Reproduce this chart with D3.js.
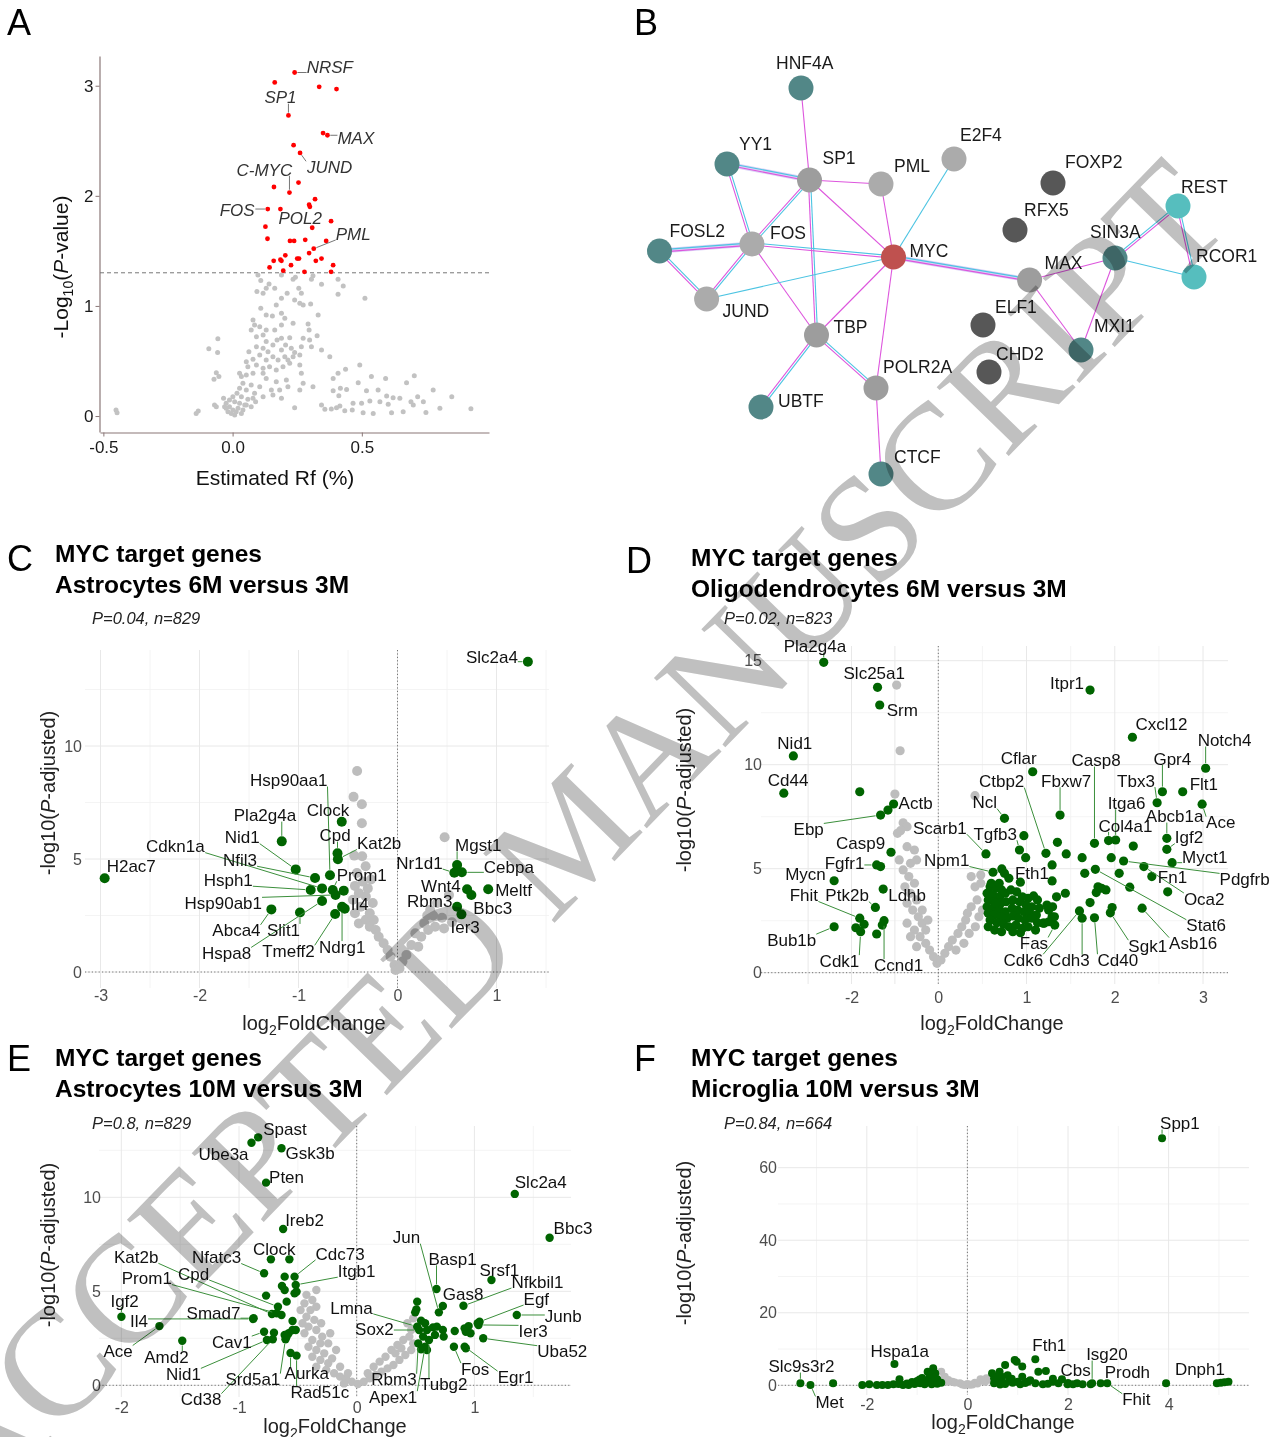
<!DOCTYPE html>
<html><head><meta charset="utf-8">
<script src="https://cdn.jsdelivr.net/npm/d3@7"></script>
<style>body{margin:0;background:#fff}svg{display:block}</style>
</head><body>
<svg id="fig" width="1273" height="1437" xmlns="http://www.w3.org/2000/svg"></svg>
<script>
// ================= DATA =================
// Panel A: estimated Rf vs -log10(P)
const rfSignificant = [[0.240,3.12],[0.163,3.03],[0.335,2.99],[0.402,2.97],[0.216,2.73],[0.350,2.57],[0.367,2.55],[0.236,2.46],[0.261,2.39],[0.160,2.08],[0.255,2.12],[0.220,2.03],[0.319,1.97],[0.296,1.92],[0.299,1.90],[0.136,1.88],[0.185,1.88],[0.381,1.77],[0.127,1.72],[0.308,1.71],[0.135,1.61],[0.222,1.59],[0.238,1.59],[0.281,1.60],[0.362,1.59],[0.314,1.52],[0.296,1.48],[0.204,1.46],[0.159,1.41],[0.185,1.42],[0.189,1.41],[0.250,1.43],[0.257,1.43],[0.322,1.41],[0.344,1.43],[0.143,1.35],[0.226,1.37],[0.389,1.37],[0.196,1.32],[0.278,1.31],[0.381,1.31]];
const rfNonsignificant = [[-0.451,0.055],[-0.447,0.030],[-0.141,0.024],[-0.133,0.045],[-0.092,0.612],[-0.057,0.703],[-0.058,0.576],[-0.063,0.394],[-0.072,0.333],[-0.053,0.358],[-0.070,0.100],[-0.063,0.085],
[0.408,0.388],[0.437,0.424],[0.441,0.242],[0.389,0.342],[0.492,0.464],[0.486,0.303],[0.518,0.230],[0.537,0.358],[0.563,0.236],[0.592,0.342],[0.596,0.182],[0.621,0.167],[0.647,0.161],[0.673,0.303],[0.703,0.367],[0.716,0.176],[0.776,0.236],[0.848,0.176],[0.922,0.067],[0.802,0.070],[0.748,0.033],[0.699,0.100],[0.738,0.130],[0.690,0.130],[0.660,0.039],[0.615,0.030],[0.602,0.106],[0.570,0.130],[0.531,0.136],[0.544,0.024],[0.505,0.030],[0.499,0.115],[0.466,0.115],[0.463,0.055],[0.434,0.048],[0.415,0.091],[0.402,0.076],[0.382,0.064],[0.357,0.061],[0.344,0.100],[0.240,0.076],[0.411,0.185],[0.389,0.230],[0.417,0.252],
[0.098,1.282],[0.109,1.230],[0.130,1.161],[0.141,1.200],[0.189,1.282],[0.234,1.242],[0.243,1.261],[0.305,1.242],[0.311,1.273],[0.344,1.197],[0.408,1.242],[0.428,1.182],[0.408,1.106],[0.512,1.070],[0.094,1.130],[0.118,1.115],[0.163,1.161],[0.189,1.070],[0.211,1.115],[0.256,1.161],[0.266,1.115],[0.260,1.024],[0.273,1.009],[0.302,1.018],[0.240,1.055],[0.169,1.009],[0.109,0.979],[0.130,0.918],[0.154,0.909],[0.189,0.933],[0.202,0.888],[0.163,0.782],[0.189,0.827],[0.234,0.842],[0.292,0.836],[0.331,0.918],[0.296,0.782],[0.079,0.873],[0.085,0.827],[0.105,0.812],[0.130,0.782],[0.072,0.782],[0.092,0.721],[0.118,0.736],[0.130,0.676],[0.172,0.691],[0.189,0.706],[0.221,0.712],[0.273,0.706],[0.327,0.730],[0.298,0.691],[0.092,0.630],[0.118,0.615],[0.137,0.585],[0.156,0.645],[0.189,0.600],[0.205,0.645],[0.227,0.615],[0.240,0.576],[0.266,0.630],[0.305,0.630],[0.344,0.600],[0.376,0.539],[0.063,0.585],[0.079,0.515],[0.105,0.555],[0.130,0.509],[0.156,0.539],[0.176,0.509],[0.202,0.539],[0.214,0.509],[0.234,0.539],[0.260,0.555],[0.053,0.494],[0.059,0.448],[0.092,0.464],[0.118,0.433],[0.143,0.448],[0.169,0.418],[0.195,0.448],[0.221,0.479],[0.260,0.464],[0.266,0.388],[0.311,0.267],
[0.027,0.388],[0.034,0.358],[0.053,0.373],[0.079,0.388],[0.118,0.388],[0.130,0.342],[0.169,0.312],[0.208,0.327],[0.273,0.297],[0.260,0.236],[0.214,0.267],[0.182,0.236],[0.150,0.236],[0.105,0.267],[0.072,0.282],[0.040,0.297],[0.027,0.252],[0.053,0.236],[0.085,0.206],[0.118,0.176],[0.156,0.191],[0.189,0.161],[0.017,0.206],[0.034,0.176],[0.059,0.152],[0.089,0.130],[0.001,0.176],[-0.012,0.145],[0.008,0.130],[0.027,0.115],[0.047,0.100],[0.072,0.085],[-0.025,0.115],[-0.035,0.161],[-0.031,0.085],[-0.012,0.085],[0.001,0.055],[0.021,0.070],[0.040,0.055],[-0.018,0.039],[-0.005,0.024],[0.008,0.009],[-0.025,0.070],[0.014,0.039],[0.034,0.024],[0.053,0.100],[0.079,0.161]];
const rfLabels = [["NRSF",0.240,3.12],["SP1",0.216,2.73],["MAX",0.367,2.55],["JUND",0.261,2.39],["C-MYC",0.220,2.03],["FOS",0.136,1.88],["POL2",0.185,1.88],["PML",0.314,1.52]];
const rfThreshold = 1.301;
const rfXTicks = [-0.5, 0.0, 0.5];
const rfYTicks = [0, 1, 2, 3];

// Panel B: network
const netNodes = [
 ["HNF4A",151,28,"teal"],["YY1",77,104,"teal"],["SP1",159.5,120,"mid"],["PML",231,124,"light"],["E2F4",304,99,"light"],
 ["FOXP2",403,123,"dark"],["RFX5",365,170,"dark"],["REST",528,146,"cyan"],["SIN3A",465,198,"teal"],["RCOR1",544,217,"cyan"],
 ["FOSL2",9.5,191,"teal"],["FOS",102,184,"light"],["MYC",243.5,197,"red"],["MAX",379.6,220,"mid"],["JUND",56.6,239,"light"],
 ["ELF1",333,265,"dark"],["TBP",166.5,275,"mid"],["MXI1",431,290,"teal"],["CHD2",339,312,"dark"],["POLR2A",226,328,"mid"],
 ["UBTF",111,347,"teal"],["CTCF",231,414,"teal"]];
const netEdges = [["HNF4A","SP1","m"],["YY1","SP1","mcl"],["YY1","FOS","mc"],["SP1","PML","m"],["SP1","FOS","mc"],["SP1","MYC","m"],["SP1","TBP","mc"],["PML","MYC","m"],["E2F4","MYC","c"],["FOSL2","FOS","mcl"],["FOSL2","JUND","mc"],["FOS","JUND","mc"],["FOS","MYC","mc"],["FOS","TBP","m"],["JUND","MYC","c"],["MYC","TBP","m"],["MYC","POLR2A","m"],["MYC","MAX","mcl"],["MAX","SIN3A","m"],["MAX","MXI1","m"],["SIN3A","MXI1","m"],["SIN3A","REST","mc"],["SIN3A","RCOR1","c"],["REST","RCOR1","mc"],["TBP","UBTF","mc"],["TBP","POLR2A","mc"],["POLR2A","CTCF","m"]];

// Panel C: Astrocytes 6M vs 3M
const cGray = [[-0.408,8.89],[-0.444,7.75],[-0.360,7.42],[-0.360,6.58],[0.476,5.96],[-0.437,5.15],[-0.357,5.12],[-0.322,4.68],[-0.41,4.38],[-0.268,4.09],[-0.43,3.81],[-0.39,3.49],[-0.32,3.34],[-0.25,3.05],[-0.37,2.89],[-0.43,2.60],[-0.39,2.15],[-0.32,2.31],[-0.28,2.00],[-0.22,1.86],[-0.19,1.56],[-0.14,1.27],[-0.10,0.97],[-0.07,0.68],[-0.03,0.31],[-0.02,0.09],[0.02,0.16],[0.05,0.46],[0.09,0.75],[0.14,1.19],[0.18,1.71],[0.27,2.15],[0.33,2.74],[0.38,2.00],[0.47,1.93],[0.40,3.05],[0.52,3.41],[0.24,1.56],[0.21,1.12],[0.31,1.86],[-0.45,3.2],[-0.35,4.0],[-0.30,3.7],[-0.28,2.6],[-0.24,2.3],[0.36,2.5],[0.45,2.4],[0.55,2.2],[0.30,2.5]];
const cGreen = [[1.317,13.73,"Slc2a4"],[-2.958,4.15,"H2ac7"],[-0.563,6.65,"Clock"],[-1.169,5.78,"Pla2g4a"],[-0.606,5.25,"Cpd"],[-0.602,4.99,"Kat2b"],[-1.028,4.54,"Nid1"],[-0.833,4.16,"Nfil3"],[-0.682,4.28,"Hsp90aa1"],[-0.877,3.63,"Hsph1"],[-0.762,3.70,"Cdkn1a"],[-0.654,3.63,"Prom1"],[-0.626,3.41,"Hsp90ab1"],[-0.543,3.60,null],[-0.762,3.14,"Hspa8"],[-1.274,2.77,"Abca4"],[-0.985,2.63,"Slit1"],[-0.630,2.57,"Tmeff2"],[-0.560,2.89,"Ndrg1"],[-0.533,2.80,"Il4"],[0.602,4.73,"Mgst1"],[0.574,4.39,"Nr1d1"],[0.650,4.41,"Cebpa"],[0.703,3.66,"Wnt4"],[0.746,3.41,"Bbc3"],[0.916,3.66,"Meltf"],[0.602,2.89,"Rbm3"],[0.646,2.55,"Ier3"]];

// Panel D: Oligodendrocytes 6M vs 3M
const dGray = [[-0.96,13.83],[-0.88,10.67],[-1.00,8.59],[0.416,8.51],[-0.81,7.21],[-0.72,7.02],[-0.94,6.70],[-0.87,6.83],[-0.72,6.06],[-0.55,5.90],[-0.90,5.42],[-0.64,5.26],[-0.50,5.42],[-0.81,4.94],[-0.68,4.62],[-0.55,4.30],[-0.77,4.13],[-0.64,3.82],[-0.50,3.50],[-0.72,3.34],[-0.59,3.01],[-0.46,2.69],[-0.37,2.38],[-0.55,2.05],[-0.42,1.73],[-0.29,1.41],[-0.20,1.09],[-0.11,0.77],[-0.03,0.45],[0.03,0.61],[0.074,0.93],[0.116,1.25],[0.159,1.57],[0.223,1.89],[0.266,2.21],[0.310,2.53],[0.330,2.86],[0.373,3.17],[0.373,4.62],[0.481,4.70],[0.416,4.13],[0.481,4.30],[-0.72,2.38],[-0.64,1.73],[-0.50,1.25],[0.20,1.09],[0.29,1.41],[0.35,1.89],[0.42,2.21],[0.46,2.69],[0.50,3.01],[0.44,3.50],[-0.29,2.05],[-0.24,2.53],[-0.37,3.01]];
const dGreen = [[-2.64,14.92,"Pla2g4a"],[-1.40,13.72,"Slc25a1"],[-1.35,12.87,"Srm"],[1.72,13.59,"Itpr1"],[-3.34,10.42,"Nid1"],[2.20,11.32,"Cxcl12"],[3.03,9.83,"Notch4"],[1.07,9.66,"Cflar"],[-3.56,8.63,"Cd44"],[-1.81,8.70],[2.54,8.70,"Gpr4"],[2.77,8.70,"Flt1"],[2.48,8.17,"Tbx3"],[2.99,8.10,"Ace"],[-1.03,8.11,"Actb"],[-1.16,7.82],[-1.33,7.58,"Ebp"],[1.38,7.58,"Fbxw7"],[0.75,7.42,"Ncl"],[2.59,6.46,"Abcb1a"],[1.93,6.35,"Col4a1"],[2.01,6.38,"Itga6"],[2.21,6.09],[1.77,6.22,"Casp8"],[0.97,6.59],[1.35,6.27],[0.54,5.71,"Scarb1"],[-1.09,5.79,"Casp9"],[1.22,5.74,"Ctbp2"],[1.45,5.71],[1.63,5.53],[1.96,5.53],[2.10,5.37,"Pdgfrb"],[2.33,5.10,"Oca2"],[2.59,5.93,"Igf2"],[2.65,5.29,"Myct1"],[0.92,5.90,"Tgfb3"],[0.99,5.53],[1.29,5.18],[-1.42,5.18,"Fgfr1"],[-1.33,5.10],[-2.40,4.42,"Mycn"],[0.62,4.83,"Npm1"],[0.72,4.99],[0.75,4.78],[0.80,4.54,"Fth1"],[0.93,4.35],[1.29,4.41],[1.66,4.78],[1.78,4.97,"Stat6"],[2.05,4.78],[2.17,4.11],[2.42,4.62,"Fn1"],[2.60,3.89],[-1.27,4.02,"Ldhb"],[-1.45,3.14,"Ptk2b"],[1.81,4.13],[1.85,4.06],[1.90,3.98],[1.79,3.85],[1.44,3.82],[1.34,3.65],[1.72,3.37],[1.97,3.13],[1.95,2.88,"Sgk1"],[2.31,3.10,"Asb16"],[1.60,2.97,"Cdk6"],[1.63,2.62,"Cdh3"],[1.77,2.64,"Cd40"],[1.32,2.29,"Fas"],[1.20,2.38],[1.29,2.69],[1.25,3.01],[-2.40,2.21,"Bub1b"],[-1.81,2.62,"Fhit"],[-1.71,2.33],[-1.90,2.16],[-1.79,1.97,"Cdk1"],[-1.25,2.50,"Ccnd1"],[-1.29,2.29],[-1.42,1.86],
[0.587,4.13],[0.652,4.06],[0.717,3.98],[0.553,3.82],[0.622,3.74],[0.695,3.65],[0.760,3.82],[0.823,3.98],[0.888,3.89],[0.952,3.65],[1.017,3.58],[1.080,3.69],[1.124,3.50],[0.566,3.50],[0.639,3.41],[0.707,3.34],[0.768,3.41],[0.845,3.50],[0.922,3.41],[0.995,3.25],[1.059,3.17],[1.145,3.10],[0.553,3.17],[0.622,3.10],[0.695,3.01],[0.760,2.93],[0.837,3.10],[0.900,3.01],[0.974,2.93],[1.037,2.86],[1.111,2.77],[0.566,2.86],[0.630,2.77],[0.707,2.69],[0.781,2.62],[0.845,2.73],[0.909,2.62],[0.982,2.53],[1.059,2.62],[1.124,2.40],[0.587,2.53],[0.664,2.40],[0.738,2.34],[0.802,2.21],[0.880,2.29],[0.952,2.13],[1.017,2.21],[0.566,2.21],[0.639,2.05],[0.717,1.97],[0.845,1.97],[0.931,1.92],[1.102,2.05],[1.188,2.38],[1.253,2.45],[1.316,2.69],[1.295,3.17],[1.231,3.25],[0.652,3.34],[0.60,4.3],[0.69,4.3]];

// Panel E: Astrocytes 10M vs 3M
const eGray = [[-0.427,4.81],[-0.377,4.54],[-0.444,4.36],[-0.343,4.18],[-0.393,4.00],[-0.477,4.00],[-0.427,3.65],[-0.360,3.48],[-0.460,3.30],[-0.410,3.12],[-0.343,2.94],[-0.444,2.77],[-0.377,2.41],[-0.309,2.23],[-0.410,2.05],[-0.343,1.88],[-0.276,1.70],[-0.377,1.52],[-0.309,1.35],[-0.242,1.17],[-0.343,0.99],[-0.259,0.82],[-0.192,0.64],[-0.141,0.46],[-0.091,0.37],[-0.041,0.19],[-0.074,0.64],[-0.141,0.99],[-0.209,1.43],[-0.175,1.88],[-0.242,2.23],[-0.293,2.59],[-0.225,2.77],[-0.302,3.30],[0.060,0.19],[0.110,0.37],[0.161,0.55],[0.211,0.73],[0.262,0.90],[0.312,1.08],[0.363,1.35],[0.413,1.61],[0.463,1.88],[0.480,2.23],[0.447,2.59],[0.396,2.41],[0.346,2.14],[0.295,1.88],[0.245,1.52],[0.195,1.26],[0.144,0.99],[0.094,0.64],[0.463,2.94],[0.430,3.30],[0.480,3.56],[-0.108,0.10],[0.010,0.07],[0.329,1.70],[0.379,1.97],[-0.343,5.07]];
const eGreen = [[-0.837,13.19,"Spast"],[-0.894,12.90,"Ube3a"],[-0.639,12.61,"Gsk3b"],[-0.770,10.78,"Pten"],[1.343,10.18,"Slc2a4"],[-0.625,8.31,"Ireb2"],[1.639,7.85,"Bbc3"],
[-0.729,6.70,"Clock"],[-0.572,6.70],[-0.787,5.96,"Nfatc3"],[-0.612,5.78],[-0.528,5.78,"Cdc73"],[1.145,5.60,"Srsf1"],
[-0.635,5.28],[-0.612,5.07],[-0.518,5.34,"Itgb1"],[-0.511,4.98],[-0.528,4.89],[0.678,5.12,"Basp1"],
[-0.770,4.77],[-0.595,4.45],[0.514,4.45],[0.507,4.04],[0.497,3.88],[0.732,4.22,"Gas8"],[0.698,3.88,"Jun"],[0.907,4.23,"Nfkbil1"],
[-0.669,4.18,"Cpd"],[-0.720,3.79,"Kat2b"],[-0.679,3.83,"Prom1"],[-0.639,3.74],[-0.876,3.57,"Smad7"],[-0.880,3.53,"Il4"],[1.360,3.74,"Junb"],[1.044,3.38,"Egf"],[1.028,3.30],
[-1.999,3.65,"Igf2"],[-1.676,3.15,"Ace"],[-0.545,3.42],
[0.547,3.44],[0.581,3.30],[0.530,2.94,"Sox2"],[0.597,2.94],[0.648,3.08],[0.681,3.12],[0.732,2.94],[0.665,2.68],[0.614,2.41,"Tubg2"],[0.564,2.59],[0.523,2.23,"Rbm3"],[0.581,2.05,"Apex1"],[0.597,1.88],[0.547,1.91],[0.739,2.59],[0.833,2.89],[0.927,2.85],[0.951,3.15],[0.917,3.03],[0.967,2.77],[0.514,3.12,"Lmna"],[1.035,3.21,"Ier3"],[1.075,2.50,"Uba52"],[0.826,2.05,"Fos"],[0.917,2.05,"Egr1"],[0.927,1.97],
[-0.787,2.85,"Cav1"],[-0.703,2.80],[-0.763,2.41,"Nid1"],[-0.713,2.45,"Cd38"],[-0.605,2.45,"Srd5a1"],[-0.578,2.77],[-0.545,2.94],[-0.518,2.94],[-0.612,2.68],[-0.595,2.59],[-0.562,1.72,"Aurka"],[-0.511,1.58,"Rad51c"],[-1.482,2.37,"Amd2"]];

// Panel F: Microglia 10M vs 3M
const fGray = [[-0.52,3.77],[-0.45,2.39],[-0.38,1.47],[-0.30,1.01],[-0.15,0.55],[0.0,0.36],[0.15,0.73],[0.30,1.28],[0.38,1.93],[0.26,1.65],[-0.25,0.8],[-0.1,0.2],[0.1,0.2],[0.2,0.5],[-0.4,1.0],[0.35,1.0],[0.45,1.5],[-0.05,0.1],[0.05,0.15]];
const fGreen = [[3.87,68.1,"Spp1"],[-3.32,0.55,"Slc9s3r2"],[-3.12,0.08,"Met"],[-2.67,0.55],[-1.45,5.87,"Hspa1a"],
[-2.09,0.08],[-1.95,0.27],[-1.80,0.08],[-1.69,0.08],[-1.58,0.08],[-1.47,0.27],[-1.35,1.65],[-1.37,0.36],[-1.28,0.08],[-1.17,0.08],[-1.05,0.36],[-0.94,0.55],[-0.83,1.01],[-0.79,3.77],[-0.75,2.39],[-0.68,4.69],[-0.64,3.31],[-0.60,1.65],[-0.52,0.73],[-0.71,0.27],[-1.2,0.5],[-1.0,1.2],[-0.9,2.0],[-0.7,1.5],[-0.85,0.3],[-0.6,0.4],[-1.1,0.9],[-0.95,1.6],[-0.72,3.0],[-0.65,2.2],
[0.49,3.31],[0.53,1.93],[0.64,3.77],[0.68,2.39],[0.75,5.61],[0.83,1.47],[0.94,6.98],[0.98,6.52],[1.09,5.15],[1.09,2.39],[1.20,1.01],[1.35,7.17,"Fth1"],[1.41,3.77],[1.56,3.95],[1.69,1.01],[1.81,0.55],[1.88,1.65],[1.99,0.27],[2.29,0.27,"Cbs"],[2.45,0.27],[2.48,0.55,"Isg20"],[2.65,0.55,"Prodh"],[2.78,0.55,"Fhit"],[2.18,0.55],[3.95,0.55],[4.96,0.55,"Dnph1"],[5.04,0.73],[5.11,0.83],[5.19,1.01],[0.53,0.55],[0.75,0.36],[0.90,0.73],[1.05,0.27],[1.35,0.55],[1.50,0.27],[0.6,1.2],[0.7,0.8],[0.8,2.8],[0.58,2.2],[0.65,0.2],[0.88,1.8],[1.0,1.0],[1.15,0.6],[1.25,1.4],[1.6,0.4],[1.7,1.8],[2.0,0.6],[2.1,0.3]];

// ================= LAYOUT (label offsets in px, from point to text start/baseline) =================
const rfLabelOffsets = {"NRSF":[12,0],"SP1":[-24,-12],"MAX":[10,8.5],"JUND":[7,20],"C-MYC":[-53,-17],"FOS":[-48,7],"POL2":[-2,15],"PML":[22,-9]};
const cOff = {Slc2a4:[-62,1],H2ac7:[2,-6],Clock:[-35,-6],Pla2g4a:[-48,-20],Cpd:[-18,-12],Kat2b:[19,-10],Nid1:[-71,-26],Cdkn1a:[-176,-36],Nfil3:[-92,-12],Hsp90aa1:[-80,-89],Prom1:[4,-9],Hsph1:[-107,-4],Hsp90ab1:[-151,14],Il4:[6,1],Abca4:[-59,27],Slit1:[-33,23],Hspa8:[-120,58],Tmeff2:[-73,43],Ndrg1:[-23,46],Mgst1:[-2,-14],Nr1d1:[-58,-4],Cebpa:[22,1],Wnt4:[-46,3],Meltf:[7,7],Rbm3:[-50,0],Bbc3:[2,19],Ier3:[-11,19]};
const dOff = {Pla2g4a:[-40,-10],Slc25a1:[-34,-8],Srm:[7,11],Itpr1:[-40,-1],Nid1:[-16,-7],Cxcl12:[3,-7],Notch4:[-8,-22],Cflar:[-32,-8],Casp8:[-23,-77],Gpr4:[-9,-27],Cd44:[-16,-7],Ctbp2:[-67,-66],Fbxw7:[-19,-28],Tbx3:[-40,-16],Flt1:[7,-2],Actb:[5,5],Ncl:[-32,-10],Itga6:[-8,-31],Abcb1a:[-21,-16],Igf2:[8,-6],Ace:[4,24],Ebp:[-87,20],Scarb1:[-73,-20],Col4a1:[-10,-9],Tgfb3:[-46,-10],Casp9:[-55,-3],Fgfr1:[-52,4],Npm1:[-69,-6],Myct1:[10,0],Fth1:[6,1],Pdgfrb:[96,24],Mycn:[-49,-1],Fn1:[6,6],Fhit:[-70,-17],Ptk2b:[-50,-6],Ldhb:[5,12],Oca2:[40,38],Stat6:[91,62],Bub1b:[-67,19],Fas:[-35,24],Sgk1:[18,39],Asb16:[27,41],Cdk1:[-41,35],Ccnd1:[-10,50],Cdk6:[-76,55],Cdh3:[-33,48],Cd40:[3,48]};
const eOff = {Spast:[5,-2],Ube3a:[-53,17],Gsk3b:[4,11],Pten:[3,0],Slc2a4:[0,-6],Ireb2:[2,-3],Bbc3:[4,-4],Jun:[-46,-69],Clock:[-18,-4],Kat2b:[-158,-51],Nfatc3:[-72,-10],Cdc73:[21,-17],Basp1:[-8,-24],Srsf1:[-12,-4],Itgb1:[42,-8],Cpd:[-100,-27],Prom1:[-155,-29],Nfkbil1:[48,-18],Gas8:[0,-6],Igf2:[-11,-10],Egf:[44,-17],Lmna:[-87,-13],Smad7:[-67,1],Junb:[28,7],Il4:[-123,8],Sox2:[-64,5],Ier3:[40,12],Cav1:[-52,16],Ace:[-56,31],Amd2:[-38,22],Uba52:[54,19],Fos:[7,28],Nid1:[-101,40],Aurka:[-6,26],Srd5a1:[-60,46],Egr1:[33,36],Rbm3:[-47,42],Tubg2:[-9,50],Rad51c:[-6,42],Cd38:[-92,66],Apex1:[-56,56]};
const fOff = {Spp1:[-2,-9],Slc9s3r2:[-32,-11],Met:[5,23],Hspa1a:[-24,-7],Fth1:[-3,-8],Isg20:[-6,-23],Cbs:[-22,-8],Prodh:[4,-5],Fhit:[15,22],Dnph1:[-42,-8]};

// ================= DRAWING =================
const SANS = '"Liberation Sans", Arial, Helvetica, sans-serif';
const svg = d3.select("#fig").attr("font-family", SANS);

function txt(g, x, y, s, o) {
  o = o || {};
  const t = g.append("text").attr("x", x).attr("y", y).attr("font-size", o.fs || 16)
    .attr("fill", o.fill || "#000").text(s);
  if (o.weight) t.attr("font-weight", o.weight);
  if (o.italic) t.attr("font-style", "italic");
  if (o.anchor) t.attr("text-anchor", o.anchor);
  return t;
}

function placeLabels(lineG, textG, items, opt) {
  items.forEach(it => {
    const t = txt(textG, it.cx + it.dx, it.cy + it.dy, it.t, {fs: opt.fs, fill: opt.fill, italic: opt.italic});
    const b = t.node().getBBox();
    const top = b.y + opt.fs * 0.2, bot = b.y + b.height - opt.fs * 0.22;
    const nx = Math.max(b.x, Math.min(it.cx, b.x + b.width));
    const ny = Math.max(top, Math.min(it.cy, bot));
    const ddx = nx - it.cx, ddy = ny - it.cy, d = Math.hypot(ddx, ddy);
    if (d > opt.r + opt.minLen) {
      const sx = it.cx + ddx / d * (opt.r + 0.5), sy = it.cy + ddy / d * (opt.r + 0.5);
      lineG.append("line").attr("x1", sx).attr("y1", sy).attr("x2", nx).attr("y2", ny)
        .attr("stroke", opt.line).attr("stroke-width", opt.lw || 1);
    }
  });
}

function panelLetter(s, x, y) { txt(svg, x, y, s, {fs: 36}); }

// ---------- Panel A ----------
(function () {
  const g = svg.append("g");
  const x = d3.scaleLinear().domain([-0.513, 0.992]).range([100, 489]);
  const y = d3.scaleLinear().domain([-0.145, 3.27]).range([432, 56]);
  const axisCol = "#8a7777";
  const xa = g.append("g").attr("transform", "translate(0,432.5)")
    .call(d3.axisBottom(x).tickValues(rfXTicks).tickSize(4).tickSizeOuter(0).tickPadding(4).tickFormat(d => d.toFixed(1)));
  const ya = g.append("g").attr("transform", "translate(99.5,0)")
    .call(d3.axisLeft(y).tickValues(rfYTicks).tickSize(4).tickSizeOuter(0).tickPadding(2).tickFormat(d => String(d)));
  [xa, ya].forEach(a => {
    a.select(".domain").attr("stroke", axisCol).attr("stroke-width", 1.2);
    a.selectAll(".tick line").attr("stroke", axisCol);
    a.selectAll("text").attr("font-size", 17).attr("fill", "#1a1a1a").attr("font-family", SANS);
  });
  g.append("line").attr("x1", 100).attr("x2", 489).attr("y1", y(rfThreshold)).attr("y2", y(rfThreshold))
    .attr("stroke", "#777").attr("stroke-dasharray", "4,3").attr("stroke-width", 1);
  g.append("g").selectAll("circle").data(rfNonsignificant).join("circle")
    .attr("cx", d => x(d[0])).attr("cy", d => y(d[1])).attr("r", 2.5).attr("fill", "#c2c2c2");
  g.append("g").selectAll("circle").data(rfSignificant).join("circle")
    .attr("cx", d => x(d[0])).attr("cy", d => y(d[1])).attr("r", 2.4).attr("fill", "#ff0000");
  const lg = g.append("g"), tg = g.append("g");
  placeLabels(lg, tg, rfLabels.map(l => ({t: l[0], cx: x(l[1]), cy: y(l[2]), dx: rfLabelOffsets[l[0]][0], dy: rfLabelOffsets[l[0]][1]})),
    {fs: 17, fill: "#333", italic: true, r: 2.3, minLen: 3, line: "#666", lw: 0.9});
  txt(g, 275, 485, "Estimated Rf (%)", {fs: 21, anchor: "middle", fill: "#111"});
  const yt = g.append("text").attr("transform", "translate(68,267) rotate(-90)").attr("text-anchor", "middle")
    .attr("font-size", 21).attr("fill", "#111");
  yt.append("tspan").text("-Log");
  yt.append("tspan").text("10").attr("font-size", 14).attr("dy", 5);
  yt.append("tspan").text("(").attr("dy", -5);
  yt.append("tspan").text("P").attr("font-style", "italic");
  yt.append("tspan").text("-value)");
})();
panelLetter("A", 7, 35);

// ---------- Panel B ----------
(function () {
  const g = svg.append("g");
  const bx = d3.scaleLinear().domain([0, 600]).range([650, 1250]);
  const by = d3.scaleLinear().domain([0, 420]).range([60, 480]);
  const fillOf = {teal: "#528787", light: "#ababab", mid: "#9d9d9d", dark: "#575757", red: "#bf514f", cyan: "#56bebe"};
  const pos = {};
  netNodes.forEach(n => pos[n[0]] = [bx(n[1]), by(n[2])]);
  const eg = g.append("g");
  const MAG = "#dd55dd", CYA = "#4cc4e2";
  netEdges.forEach(e => {
    const a = pos[e[0]], b = pos[e[1]];
    const L = Math.hypot(b[0] - a[0], b[1] - a[1]);
    const nx = -(b[1] - a[1]) / L, ny = (b[0] - a[0]) / L;
    const seg = (off, col, w, op) => eg.append("line")
      .attr("x1", a[0] + nx * off).attr("y1", a[1] + ny * off).attr("x2", b[0] + nx * off).attr("y2", b[1] + ny * off)
      .attr("stroke", col).attr("stroke-width", w).attr("stroke-opacity", op || 1);
    if (e[2] === "m") seg(0, MAG, 1.1);
    else if (e[2] === "c") seg(0, CYA, 1.1);
    else {
      if (e[2] === "mcl") seg(0, "#b9a9ee", 5, 0.55);
      seg(1.1, MAG, 1.1);
      seg(-1.1, CYA, 1.1);
    }
  });
  g.append("g").selectAll("circle").data(netNodes).join("circle")
    .attr("cx", d => bx(d[1])).attr("cy", d => by(d[2])).attr("r", 12.5).attr("fill", d => fillOf[d[3]]);
  const labOff = {HNF4A:[-25,-19],YY1:[12,-14],SP1:[13,-16],PML:[13,-12],E2F4:[6,-18],FOXP2:[12,-15],RFX5:[9,-14],REST:[3,-13],SIN3A:[-25,-20],RCOR1:[2,-15],FOSL2:[10,-14],FOS:[18,-5],MYC:[16,0],MAX:[15,-11],JUND:[16,18],ELF1:[12,-12],TBP:[17,-2],MXI1:[13,-18],CHD2:[7,-12],POLR2A:[7,-15],UBTF:[17,0],CTCF:[13,-11]};
  netNodes.forEach(n => txt(g, bx(n[1]) + labOff[n[0]][0], by(n[2]) + labOff[n[0]][1], n[0], {fs: 17.5, fill: "#1a1a1a"}));
})();
panelLetter("B", 634, 35);

// ---------- Volcano panels ----------
function volcano(o) {
  const g = svg.append("g");
  const x = o.x, y = o.y;
  const gr = g.append("g");
  o.xMinor.forEach(v => gr.append("line").attr("x1", x(v)).attr("x2", x(v)).attr("y1", o.top).attr("y2", o.bottom).attr("stroke", "#f1f1f1").attr("stroke-width", 0.8));
  o.yMinor.forEach(v => gr.append("line").attr("y1", y(v)).attr("y2", y(v)).attr("x1", o.left).attr("x2", o.right).attr("stroke", "#f1f1f1").attr("stroke-width", 0.8));
  o.xMajor.forEach(v => gr.append("line").attr("x1", x(v)).attr("x2", x(v)).attr("y1", o.top).attr("y2", o.bottom).attr("stroke", "#e8e8e8").attr("stroke-width", 1));
  o.yMajor.forEach(v => gr.append("line").attr("y1", y(v)).attr("y2", y(v)).attr("x1", o.left).attr("x2", o.right).attr("stroke", "#e8e8e8").attr("stroke-width", 1));
  g.append("line").attr("x1", x(0)).attr("x2", x(0)).attr("y1", o.top).attr("y2", o.bottom)
    .attr("stroke", "#666").attr("stroke-dasharray", "1.2,2.2").attr("stroke-width", 0.9);
  g.append("line").attr("x1", o.left).attr("x2", o.right).attr("y1", y(0)).attr("y2", y(0))
    .attr("stroke", "#666").attr("stroke-dasharray", "1.2,2.2").attr("stroke-width", 0.9);
  const xa = g.append("g").attr("transform", `translate(0,${o.bottom})`)
    .call(d3.axisBottom(x).tickValues(o.xTicks).tickSize(0).tickPadding(o.xTickBase - o.bottom - 11.4).tickFormat(d => String(d)));
  const ya = g.append("g").attr("transform", `translate(${o.yTickRight},0)`)
    .call(d3.axisLeft(y).tickValues(o.yTicks).tickSize(0).tickPadding(0).tickFormat(d => String(d)));
  [xa, ya].forEach(a => {
    a.select(".domain").remove();
    a.selectAll("text").attr("font-size", 16).attr("fill", "#4d4d4d").attr("font-family", SANS);
  });
  g.append("g").selectAll("circle").data(o.gray).join("circle")
    .attr("cx", d => x(d[0])).attr("cy", d => y(d[1])).attr("r", o.r).attr("fill", "#bdbdbd");
  g.append("g").selectAll("circle").data(o.green).join("circle")
    .attr("cx", d => x(d[0])).attr("cy", d => y(d[1])).attr("r", o.r).attr("fill", "#006400");
  const lg = g.append("g"), tg = g.append("g");
  const items = o.green.filter(d => d[2] && o.off[d[2]]).map(d => ({t: d[2], cx: x(d[0]), cy: y(d[1]), dx: o.off[d[2]][0], dy: o.off[d[2]][1]}));
  placeLabels(lg, tg, items, {fs: 17, fill: "#111", r: o.r, minLen: 4, line: "#3b8f3b", lw: 1});
  const xt = g.append("text").attr("x", o.xTitle[0]).attr("y", o.xTitle[1]).attr("text-anchor", "middle").attr("font-size", 20).attr("fill", "#222");
  xt.append("tspan").text("log");
  xt.append("tspan").text("2").attr("font-size", 14).attr("dy", 5);
  xt.append("tspan").text("FoldChange").attr("dy", -5);
  const yt = g.append("text").attr("transform", `translate(${o.yTitle[0]},${o.yTitle[1]}) rotate(-90)`).attr("text-anchor", "middle").attr("font-size", 20).attr("fill", "#222");
  yt.append("tspan").text("-log10(");
  yt.append("tspan").text("P").attr("font-style", "italic");
  yt.append("tspan").text("-adjusted)");
  txt(svg, o.titleX, o.titleY, "MYC target genes", {fs: 24.5, weight: "bold"});
  txt(svg, o.titleX, o.titleY + 31, o.title2, {fs: 24.5, weight: "bold"});
  txt(svg, o.subX, o.subY, o.sub, {fs: 16.5, italic: true, fill: "#222"});
}

volcano({
  x: d3.scaleLinear().domain([-3, 1]).range([100.5, 496.5]),
  y: d3.scaleLinear().domain([0, 10]).range([972, 746]),
  left: 85, right: 549, top: 650, bottom: 988,
  xMajor: [-3, -2, -1, 0, 1], xMinor: [-2.5, -1.5, -0.5, 0.5, 1.5], yMajor: [0, 5, 10], yMinor: [2.5, 7.5, 12.5],
  xTicks: [-3, -2, -1, 0, 1], yTicks: [0, 5, 10], xTickBase: 1001, yTickRight: 82,
  gray: cGray, green: cGreen, off: cOff, r: 5,
  xTitle: [314, 1030], yTitle: [55, 793],
  titleX: 55, titleY: 562, title2: "Astrocytes 6M versus 3M", subX: 92, subY: 624, sub: "P=0.04, n=829"
});
panelLetter("C", 7, 571);

volcano({
  x: d3.scaleLinear().domain([-2, 0, 3]).range([851.5, 938.3, 1203]),
  y: d3.scaleLinear().domain([0, 15]).range([972.7, 660.7]),
  left: 761, right: 1228, top: 646, bottom: 984,
  xMajor: [-3, -2, -1, 0, 1, 2, 3], xMinor: [0.5, 1.5, 2.5], yMajor: [0, 5, 10, 15], yMinor: [2.5, 7.5, 12.5],
  xTicks: [-2, 0, 1, 2, 3], yTicks: [0, 5, 10, 15], xTickBase: 1003, yTickRight: 762,
  gray: dGray, green: dGreen, off: dOff, r: 4.6,
  xTitle: [992, 1030], yTitle: [691, 790],
  titleX: 691, titleY: 566, title2: "Oligodendrocytes 6M versus 3M", subX: 724, subY: 624, sub: "P=0.02, n=823"
});
panelLetter("D", 626, 573);

volcano({
  x: d3.scaleLinear().domain([-2, 1]).range([121.3, 474.4]),
  y: d3.scaleLinear().domain([0, 10]).range([1385.3, 1197.3]),
  left: 99, right: 571, top: 1126, bottom: 1397,
  xMajor: [-2, -1, 0, 1], xMinor: [-1.5, -0.5, 0.5, 1.5], yMajor: [0, 5, 10], yMinor: [2.5, 7.5, 12.5],
  xTicks: [-2, -1, 0, 1], yTicks: [0, 5, 10], xTickBase: 1413, yTickRight: 101,
  gray: eGray, green: eGreen, off: eOff, r: 4.2,
  xTitle: [335, 1433], yTitle: [55, 1245],
  titleX: 55, titleY: 1066, title2: "Astrocytes 10M versus 3M", subX: 92, subY: 1129, sub: "P=0.8, n=829"
});
panelLetter("E", 7, 1071);

volcano({
  x: d3.scaleLinear().domain([-2, 4]).range([866.8, 1168.6]),
  y: d3.scaleLinear().domain([0, 60]).range([1385.3, 1167.7]),
  left: 778, right: 1249, top: 1126, bottom: 1395,
  xMajor: [-2, 0, 2, 4], xMinor: [-3, -1, 1, 3, 5], yMajor: [0, 20, 40, 60], yMinor: [10, 30, 50],
  xTicks: [-2, 0, 2, 4], yTicks: [0, 20, 40, 60], xTickBase: 1410, yTickRight: 777,
  gray: fGray, green: fGreen, off: fOff, r: 4,
  xTitle: [1003, 1429], yTitle: [691, 1243],
  titleX: 691, titleY: 1066, title2: "Microglia 10M versus 3M", subX: 724, subY: 1129, sub: "P=0.84, n=664"
});
panelLetter("F", 634, 1071);

// ---------- Watermark ----------
svg.append("text").attr("transform", "translate(606,870) rotate(-45.8)").attr("text-anchor", "middle")
  .attr("font-family", '"Liberation Serif", "Times New Roman", serif').attr("font-size", 152)
  .attr("fill", "#c0c0c0").style("mix-blend-mode", "multiply").text("ACCEPTED MANUSCRIPT");
</script>
</body></html>
